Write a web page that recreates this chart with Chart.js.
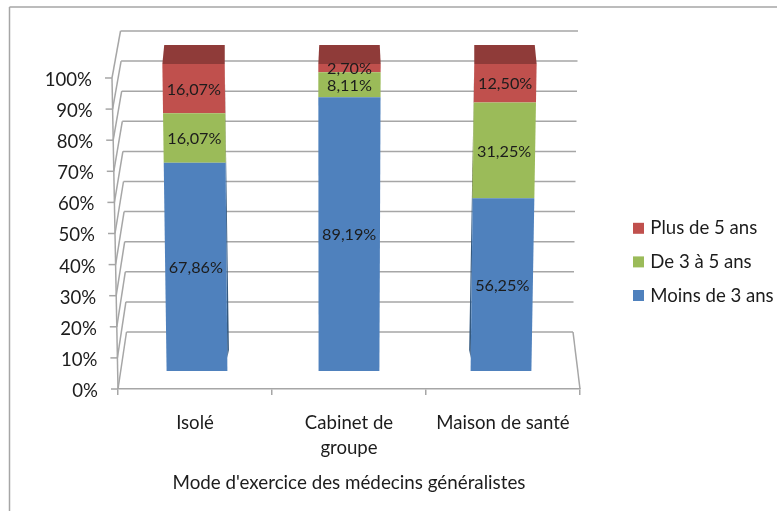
<!DOCTYPE html>
<html>
<head>
<meta charset="utf-8">
<style>html,body{margin:0;padding:0;background:#fff}canvas{display:block}</style>
<script src="https://cdn.jsdelivr.net/npm/chart.js@4"></script>
</head>
<body>
<canvas id="c" width="777" height="511"></canvas>
<script>
const categories = ["Isolé", ["Cabinet de", "groupe"], "Maison de santé"];
const moinsDe3 = [67.86, 89.19, 56.25];
const de3a5 = [16.07, 8.11, 31.25];
const plusDe5 = [16.07, 2.70, 12.50];
const seriesNames = ["Moins de 3 ans", "De 3 à 5 ans", "Plus de 5 ans"];
const yTickValues = [0,10,20,30,40,50,60,70,80,90,100];
const axisTitle = "Mode d'exercice des médecins généralistes";

const FONT = "Lato, 'Open Sans', sans-serif";
const GREY = "#a6a6a6";
const TEXT = "#1c1c1c";

/* perspective of the 3D picture */
function mapBar(px, py) {
  const p = px + (px - 349) * -0.013;
  return { x: p + (p - 330) * 0.026 * (371 - py) / 307, y: py };
}
function pathOf(ctx, pts) {
  ctx.beginPath();
  pts.forEach((p, i) => i ? ctx.lineTo(p.x, p.y) : ctx.moveTo(p.x, p.y));
  ctx.closePath();
}
Chart.BarElement.prototype.draw = function (ctx) {
  const hw = this.width / 2, top = this.y, bot = this.base;
  const a = mapBar(this.x - hw, top), b = mapBar(this.x + hw, top),
        c = mapBar(this.x + hw, bot), d = mapBar(this.x - hw, bot);
  ctx.save();
  const dir = Math.abs(this.x - 349) < 20 ? 0 : (this.x < 349 ? 1 : -1);
  if (dir) {
    const e = dir > 0 ? b : a, f = dir > 0 ? c : d;
    const yb = Math.min(bot, 350), amp = 1.7 * Math.abs(this.x - 349) / 154;
    if (yb > top) {
      const s = y => dir * amp * Math.max(0, y - 64) / 288;
      const t = (yb - e.y) / (f.y - e.y), fx = e.x + (f.x - e.x) * t;
      const pts = [e, {x: fx, y: yb}, {x: fx + s(yb), y: yb}, {x: e.x + s(top), y: top}];
      if (bot > 350) pts.splice(2, 0, {x: f.x + (fx - f.x) * 0.7, y: 358});
      pathOf(ctx, pts);
      ctx.fillStyle = this.options.borderColor;
      ctx.fill();
    }
  }
  pathOf(ctx, [a, b, c, d]);
  ctx.fillStyle = this.options.backgroundColor;
  ctx.fill();
  ctx.restore();
};

const walls = {
  id: "walls",
  beforeLayout(chart) {
    const lg = chart.legend;
    if (lg && !lg._wrapped) {
      const f = lg.fit;
      lg.fit = function () { f.call(this); this.width = 197; };
      lg._wrapped = true;
    }
  },
  beforeDraw(chart) {
    const { ctx, scales: { y, x } } = chart;
    const xf = v => 118 - 0.06 * v, xb = v => 126.5 - 0.06 * v;
    const yf = v => y.getPixelForValue(v);
    const yb = v => 31 + (yf(v) - 78) * (301 / 311);
    ctx.save();
    ctx.strokeStyle = GREY; ctx.lineWidth = 1.5;
    const line = (x1, y1, x2, y2) => { ctx.beginPath(); ctx.moveTo(x1, y1); ctx.lineTo(x2, y2); ctx.stroke(); };
    line(9.5, 7, 777, 7); line(9.5, 7, 9.5, 511);
    line(xf(0), yf(0), xf(100), yf(100));
    yTickValues.forEach(v => {
      line(xf(v) - 7, yf(v), xf(v), yf(v));
      line(xf(v), yf(v), xb(v), yb(v));
      line(xb(v), yb(v), 573 + 0.05 * v, yb(v));
    });
    line(573, yb(0), x.right, yf(0));
    ctx.restore();
    /* slanted tick labels, drawn by the axis itself */
    y.getLabelItems(chart.chartArea).forEach((it, i) => {
      const v = yTickValues[i];
      it.options.translation[0] = xf(v) - 20;
      it.options.translation[1] = yf(v) + 2;
    });
    const lg = chart.legend;
    lg.left = 621; lg.right = 777; lg.top = 204; lg.bottom = 350;
  },
  afterDatasetsDraw(chart) {
    const { ctx } = chart;
    const last = chart.getDatasetMeta(chart.data.datasets.length - 1).data;
    ctx.save();
    last.forEach(el => {
      const hw = el.width / 2;
      const a = mapBar(el.x - hw, el.y), b = mapBar(el.x + hw, el.y);
      const cx = (a.x + b.x) / 2, bc = cx + (349 - cx) * 0.006, bw = (b.x - a.x) / 2 * 0.97;
      pathOf(ctx, [a, b, {x: bc + bw, y: el.y - 19}, {x: bc - bw, y: el.y - 19}]);
      ctx.fillStyle = "#8f3b39";
      ctx.fill();
    });
    ctx.font = "16.2px " + FONT;
    ctx.fillStyle = TEXT;
    ctx.textAlign = "center";
    ctx.textBaseline = "middle";
    chart.data.datasets.forEach((ds, di) => {
      chart.getDatasetMeta(di).data.forEach((el, i) => {
        const p = mapBar(el.x, (el.y + el.base) / 2);
        ctx.fillText(ds.data[i].toFixed(2).replace(".", ",") + "%", p.x, p.y + 1);
      });
    });
    ctx.restore();
  }
};

const baseLabels = Chart.defaults.plugins.legend.labels.generateLabels;

new Chart(document.getElementById("c"), {
  type: "bar",
  data: {
    labels: categories,
    datasets: [
      { label: seriesNames[0], data: moinsDe3, backgroundColor: "#4f81bd", borderColor: "#34597f", yAxisID: "yBars", stack: "s", categoryPercentage: 1, barPercentage: 0.4, borderWidth: 0 },
      { label: seriesNames[1], data: de3a5, backgroundColor: "#9bbb59", borderColor: "#5f7530", yAxisID: "yBars", stack: "s", categoryPercentage: 1, barPercentage: 0.4, borderWidth: 0 },
      { label: seriesNames[2], data: plusDe5, backgroundColor: "#c0504d", borderColor: "#772c2a", yAxisID: "yBars", stack: "s", categoryPercentage: 1, barPercentage: 0.4, borderWidth: 0 }
    ]
  },
  plugins: [walls],
  options: {
    responsive: false,
    animation: false,
    layout: { padding: { top: 31 } },
    plugins: {
      tooltip: { enabled: false },
      title: { display: false },
      legend: {
        position: "right", align: "start", reverse: true,
        labels: {
          boxWidth: 5, boxHeight: 5, padding: 15, color: TEXT, font: { family: FONT, size: 18.6 },
          generateLabels(chart) {
            return baseLabels(chart).map(it => ({ ...it, strokeStyle: it.fillStyle, lineWidth: 6 }));
          }
        }
      }
    },
    scales: {
      x: {
        stacked: true,
        afterFit(s) { s.height = 122; },
        grid: { display: true, drawOnChartArea: false, drawTicks: true, tickLength: 6, color: GREY, lineWidth: 1.5 },
        border: { display: true, color: GREY, width: 1.5 },
        ticks: { autoSkip: false, maxRotation: 0, padding: 15, color: TEXT, font: { family: FONT, size: 18.6, lineHeight: 1.35 } },
        title: { display: true, text: axisTitle, color: TEXT, font: { family: FONT, size: 18.8, lineHeight: 1.2 }, padding: { top: 0, bottom: 17 } }
      },
      y: {
        min: 0, max: 115.11,
        position: "left",
        afterFit(s) { s.width = 118; },
        afterBuildTicks(s) { s.ticks = yTickValues.map(value => ({ value })); },
        grid: { display: false },
        border: { display: false },
        ticks: { color: TEXT, font: { family: FONT, size: 18.6 }, callback: v => v + "%" }
      },
      yBars: {
        stacked: true, display: false, position: "left",
        min: -5.863, max: 110.75
      }
    }
  }
});
</script>
</body>
</html>
